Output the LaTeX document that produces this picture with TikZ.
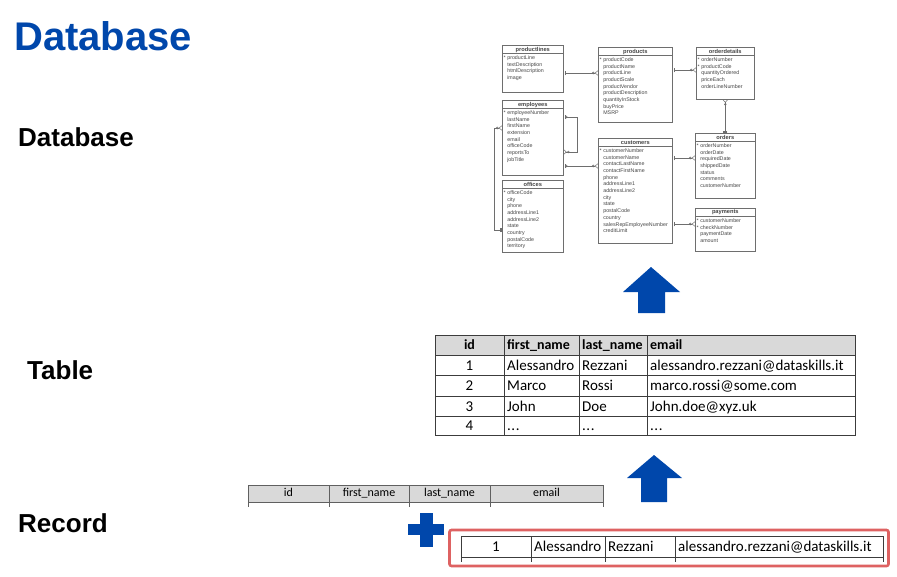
\documentclass[tikz,border=0pt]{standalone}
\usepackage{fontspec}
\setmainfont{Carlito}
\newfontfamily\lblfont{Liberation Sans}
\newfontfamily\erfont{Liberation Sans}
\usetikzlibrary{arrows.meta,calc}
\definecolor{dbblue}{RGB}{0,71,171}
\definecolor{hdrgray}{RGB}{217,217,217}
\definecolor{recred}{RGB}{222,98,98}
\definecolor{ertext}{RGB}{70,70,70}
\definecolor{erline}{RGB}{110,110,110}
\definecolor{tblline}{RGB}{60,60,60}
\newcommand\erpk{\makebox[3.6pt][l]{*}}
\newcommand\ernk{\hspace{3.6pt}}
\newcommand\threedots{.\kern0.5pt.\kern0.5pt.}
\newcommand\ertab[7]{%
 \node[erbox, minimum width=#4, minimum height=#5, anchor=north west] (#1) at (#2,#3) {};
 \draw[erborder] ([yshift=-8.5pt]#1.north west) -- ([yshift=-8.5pt]#1.north east);
 \node[ertitle] (#1-t) at ([yshift=-4.6pt]#1.north) {#6};
 \foreach \r [count=\i] in {#7} {\node[errow] (#1-\i) at ([xshift=1.5pt,yshift={-7.6pt-6.7pt*\i}]#1.north west) {\r};}
}
\tikzset{
 erbox/.style={draw=erline, line width=0.6pt, inner sep=0, fill=white},
 erborder/.style={draw=erline, line width=0.5pt},
 ertitle/.style={inner sep=0, font=\erfont\bfseries\fontsize{5.7}{6}\selectfont, text=ertext},
 errow/.style={anchor=base west, inner sep=0, font=\erfont\fontsize{5.3}{6}\selectfont, text=ertext},
 erconn/.style={draw=erline, line width=0.5pt},
 onemany/.style={arrows={{Bar[width=4pt,sep=1pt]Bar[width=4pt]}-{Circle[open,length=2.4pt,sep=0.4pt]Straight Barb[reversed,length=2.5pt,width=4.5pt]}}},
 optmany/.style={arrows={{Bar[width=4pt,sep=1pt]Circle[open,length=2.4pt]}-{Circle[open,length=2.4pt,sep=0.4pt]Straight Barb[reversed,length=2.5pt,width=4.5pt]}}},
 lbl/.style={anchor=west, inner sep=0, font=\lblfont\bfseries\fontsize{26}{26}\selectfont},
 cell/.style={anchor=west, inner sep=0, font=\fontsize{15}{15}\selectfont, text height=10pt, text depth=3pt},
 cellc/.style={cell, anchor=center},
 hcell/.style={cell, font=\bfseries\fontsize{14}{14}\selectfont},
 hcellc/.style={hcell, anchor=center},
 rhcell/.style={anchor=center, inner sep=0, font=\fontsize{12}{12}\selectfont, text height=8pt, text depth=2.5pt},
 tgrid/.style={draw=tblline, line width=0.8pt},
 rgrid/.style={draw=gray!75!black, line width=0.6pt},
}
\begin{document}
\begin{tikzpicture}[x=1pt,y=-1pt]
\useasboundingbox (0,0) rectangle (897,576);
\fill[white] (0,0) rectangle (897,576);

% title and labels
\node[anchor=west, inner sep=0, text=dbblue, font=\lblfont\bfseries\fontsize{40}{40}\selectfont] (title) at (14,36) {Database};
\node[lbl] (lbldb) at (18,137) {Database};
\node[lbl] (lbltab) at (27,370) {Table};
\node[lbl] (lblrec) at (18,523) {Record};

% ER diagram
\ertab{pl}{502}{45}{61}{47}{productlines}{\erpk productLine, \ernk textDescription, \ernk htmlDescription, \ernk image}
\ertab{pr}{598}{47}{74}{75}{products}{\erpk productCode, \ernk productName, \ernk productLine, \ernk productScale, \ernk productVendor, \ernk productDescription, \ernk quantityInStock, \ernk buyPrice, \ernk MSRP}
\ertab{od}{696}{47}{58}{52}{orderdetails}{\erpk orderNumber, \erpk productCode, \ernk quantityOrdered, \ernk priceEach, \ernk orderLineNumber}
\ertab{em}{502}{100}{61}{75}{employees}{\erpk employeeNumber, \ernk lastName, \ernk firstName, \ernk extension, \ernk email, \ernk officeCode, \ernk reportsTo, \ernk jobTitle}
\ertab{of}{502}{180}{61}{72}{offices}{\erpk officeCode, \ernk city, \ernk phone, \ernk addressLine1, \ernk addressLine2, \ernk state, \ernk country, \ernk postalCode, \ernk territory}
\ertab{cu}{598}{138}{74}{105}{customers}{\erpk customerNumber, \ernk customerName, \ernk contactLastName, \ernk contactFirstName, \ernk phone, \ernk addressLine1, \ernk addressLine2, \ernk city, \ernk state, \ernk postalCode, \ernk country, \ernk salesRepEmployeeNumber, \ernk creditLimit}
\ertab{or}{695}{133}{60}{65}{orders}{\erpk orderNumber, \ernk orderDate, \ernk requiredDate, \ernk shippedDate, \ernk status, \ernk comments, \ernk customerNumber}
\ertab{pa}{695}{208}{60}{43}{payments}{\erpk customerNumber, \erpk checkNumber, \ernk paymentDate, \ernk amount}

\coordinate (c1) at ([yshift=-28pt]pl.north east);
\coordinate (c2) at ([yshift=-23pt]pr.north east);
\coordinate (c4) at ([yshift=-20pt]cu.north east);
\coordinate (c5) at ([yshift=-86pt]cu.north east);
\coordinate (c6) at ([yshift=-66pt]em.north east);
\coordinate (c7a) at ([yshift=-17pt]em.north east);
\coordinate (c7b) at ([yshift=-52pt]em.north east);
\coordinate (c8a) at ([yshift=-28pt]em.north west);
\coordinate (c8b) at ([yshift=-50pt]of.north west);
\draw[erconn, onemany] (c1) -- (c1 -| pr.west);
\draw[erconn, onemany] (c2) -- (c2 -| od.west);
\draw[erconn, onemany] (or.north) -- (od.south);
\draw[erconn, onemany] (c4) -- (c4 -| or.west);
\draw[erconn, onemany] (c5) -- (c5 -| pa.west);
\draw[erconn, optmany] (c6) -- (c6 -| cu.west);
\draw[erconn, optmany] (c7a) -- ++(14,0) |- (c7b);
\draw[erconn, onemany] (c8b) -- ++(-8,0) |- (c8a);

% big arrows
\fill[dbblue] (651,267) -- (680,292) -- (665,292) -- (665,313) -- (638,313) -- (638,292) -- (623,292) -- cycle;
\fill[dbblue] (654,455) -- (682,478) -- (667,478) -- (667,502) -- (641,502) -- (641,478) -- (627,478) -- cycle;

% table
\fill[hdrgray] (435,335) rectangle (855,355);
\draw[tgrid] (435,335) rectangle (855,435);
\foreach \yy in {355,375,396,416} \draw[tgrid] (435,\yy) -- (855,\yy);
\foreach \xx in {504,579,647} \draw[tgrid] (\xx,335) -- (\xx,435);
\node[hcellc] (h-id) at (469.5,346) {id};
\node[hcell] (h-fn) at (507,346) {first\_name};
\node[hcell] (h-ln) at (582,346) {last\_name};
\node[hcell] (h-em) at (650,346) {email};
\foreach \id/\fn/\ln/\ee/\yy [count=\k] in {1/Alessandro/Rezzani/alessandro.rezzani@dataskills.it/366.5, 2/Marco/Rossi/marco.rossi@some.com/387, 3/John/Doe/John.doe@xyz.uk/407.5, 4/\threedots/\threedots/\threedots/427}{
  \node[cellc] (r-\k-a) at (469.5,\yy) {\id};
  \node[cell] (r-\k-b) at (507,\yy) {\fn};
  \node[cell] (r-\k-c) at (582,\yy) {\ln};
  \node[cell] (r-\k-d) at (650,\yy) {\ee};
}

% record header
\fill[hdrgray] (248,485) rectangle (603,502);
\draw[rgrid] (248,485) -- (603,485);
\draw[rgrid] (248,502) -- (603,502);
\foreach \xx in {248,329,409,490,603} \draw[rgrid] (\xx,485) -- (\xx,507);
\node[rhcell] (rh-id) at (288.5,494) {id};
\node[rhcell] (rh-fn) at (369,494) {first\_name};
\node[rhcell] (rh-ln) at (449.5,494) {last\_name};
\node[rhcell] (rh-em) at (546.5,494) {email};

% plus
\fill[dbblue] (420,513) rectangle (433,547);
\fill[dbblue] (408,524) rectangle (444,535);

% record row
\draw[recred, line width=2.6pt, rounded corners=2pt] (449.5,530) rectangle (888.5,566);
\draw[tgrid] (461,536) -- (883,536);
\draw[tgrid] (461,557) -- (883,557);
\foreach \xx in {461,531,605,675,883} \draw[tgrid] (\xx,536) -- (\xx,562);
\node[cellc] (rec-a) at (496,548) {1};
\node[cell] (rec-b) at (534,548) {Alessandro};
\node[cell] (rec-c) at (608,548) {Rezzani};
\node[cell] (rec-d) at (678,548) {alessandro.rezzani@dataskills.it};
\end{tikzpicture}
\end{document}
